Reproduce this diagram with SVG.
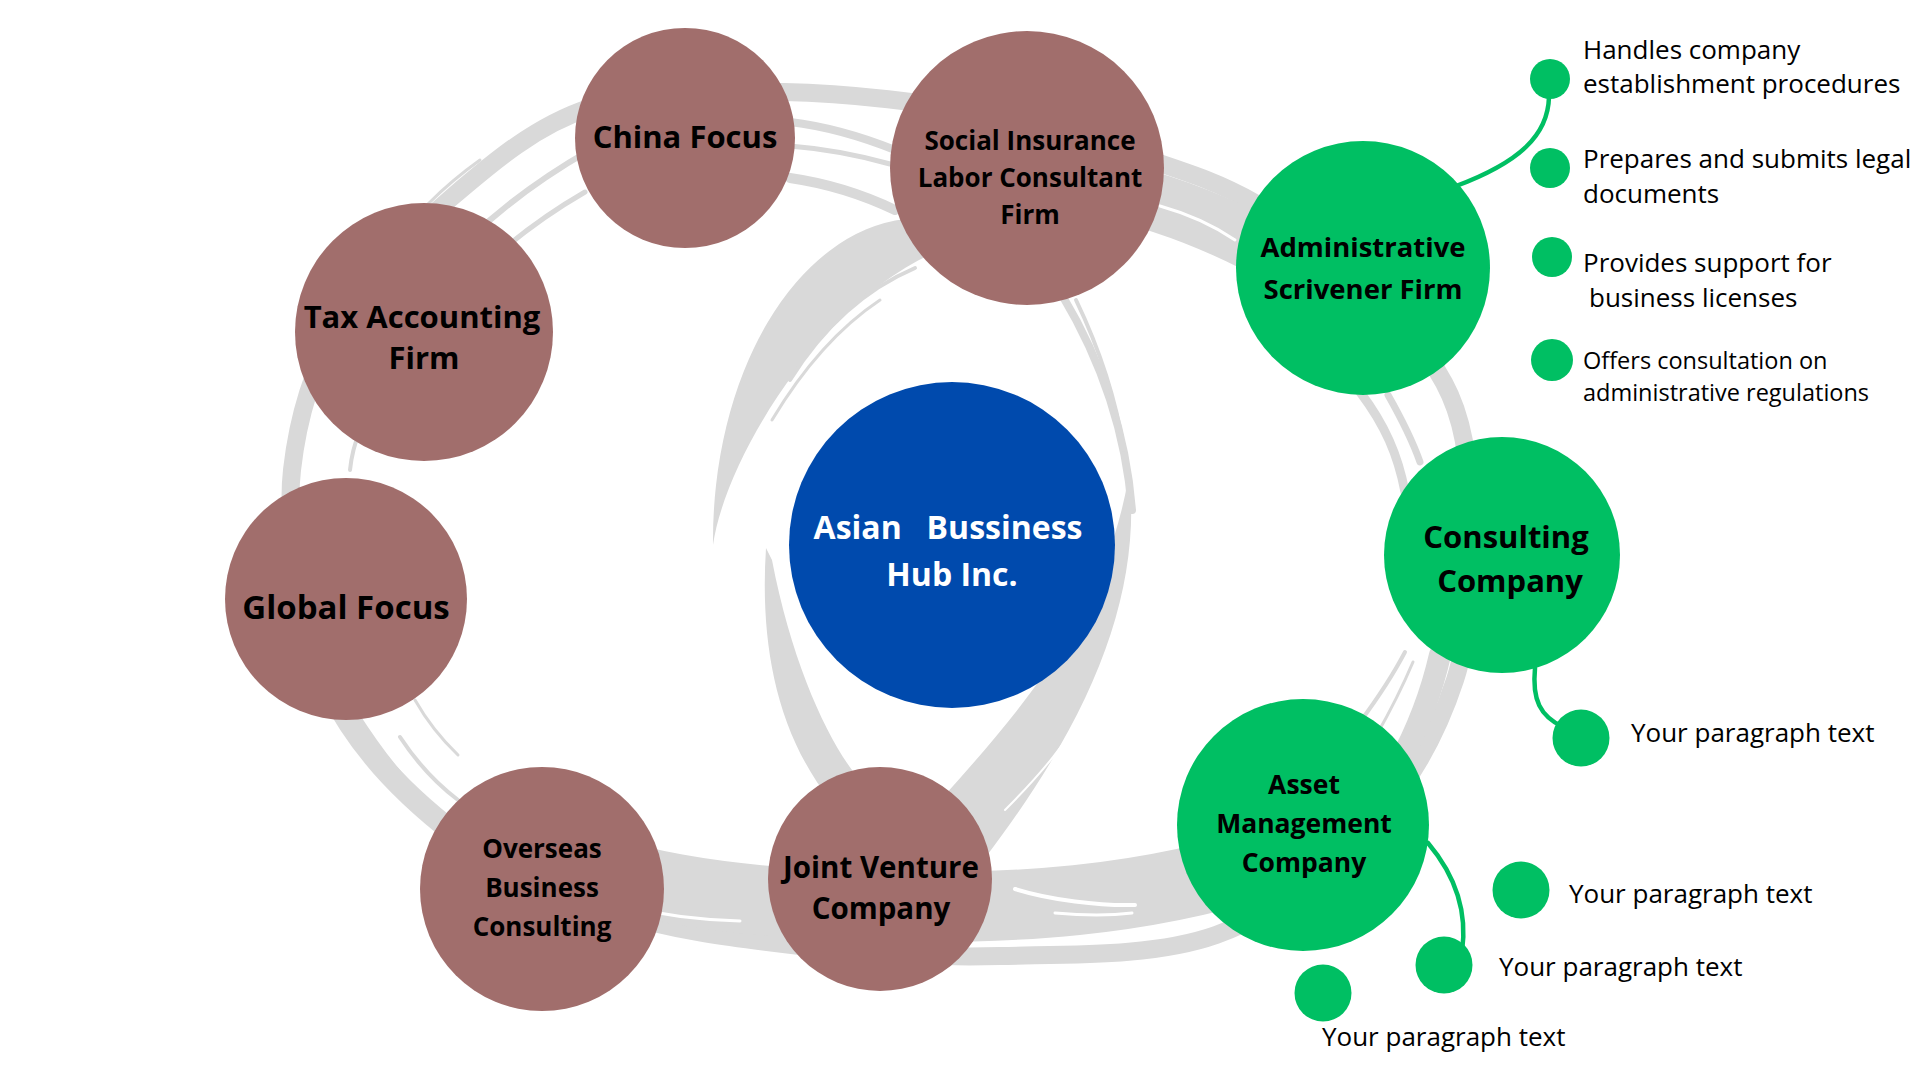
<svg xmlns="http://www.w3.org/2000/svg" width="1920" height="1080" viewBox="0 0 1920 1080">
  <style>
    .ring { fill: none; stroke: #d9d9d9; stroke-linecap: round; }
    .ringfill { fill: #d9d9d9; }
    .streak { fill: none; stroke: #ffffff; stroke-linecap: round; }
    .brown { fill: #a16e6c; }
    .green { fill: #00bf63; }
    .hub { fill: #004aad; }
    .title { font-family: "Open Sans", "Liberation Sans", sans-serif; font-weight: 700; fill: #000000; text-anchor: middle; }
    .hubtxt { font-family: "Open Sans", "Liberation Sans", sans-serif; font-weight: 700; fill: #ffffff; text-anchor: middle; font-size: 32px; }
    .note { font-family: "Open Sans", "Liberation Sans", sans-serif; font-weight: 400; fill: #000000; font-size: 26px; }
    .note.small { font-size: 23.5px; }
    .link { fill: none; stroke: #00bf63; stroke-width: 4.5; stroke-linecap: round; }
  </style>

  <rect width="1920" height="1080" fill="#ffffff"/>

  <!-- Brush-stroke rings behind the nodes -->
  <g id="ring-strokes">
    <!-- outer loop -->
    <path class="ring" stroke-width="18" d="M292,470 C286.7,517.2 296.3,567 306,608 C315.7,649 326.7,679.7 350,716 C373.3,752.3 402.3,793.5 446,826 C489.7,858.5 553,891 612,911 C671,931 735.3,938.5 800,946 C864.7,953.5 930.7,957.8 1000,956 C1069.3,954.2 1154,957 1216,935 C1278,913 1332.2,866.5 1372,824 C1411.8,781.5 1438.7,729.8 1455,680 C1471.3,630.2 1470.8,572.5 1470,525 C1469.2,477.5 1468,435.7 1450,395 C1432,354.3 1394.5,313 1362,281 C1329.5,249 1290.8,223.3 1255,203 C1219.2,182.7 1191.5,173.8 1147,159 C1102.5,144.2 1048.5,125.2 988,114 C927.5,102.8 850,93.2 784,92 C718,90.8 647.5,89.3 592,107 C536.5,124.7 493.3,161.7 451,198 C408.7,234.3 364.5,279.7 338,325 C311.5,370.3 297.3,422.8 292,470 Z"/>
    <!-- heavy lower sweep -->
    <path class="ring" stroke-width="70" d="M530,845 C620,885 720,902 860,906 C1000,910 1150,905 1300,850"/>
    <!-- lower-left thickening -->
    <path class="ring" stroke-width="22" d="M330,690 C355,740 395,790 470,845"/>
    <!-- heavy upper-right sweep -->
    <path class="ring" stroke-width="58" d="M1100,188 C1160,200 1220,222 1290,262"/>
    <!-- right side thickening -->
    <path class="ring" stroke-width="22" d="M1398,765 C1420,725 1432,690 1440,655"/>
    <path class="ring" stroke-width="9" d="M1360,392 C1385,425 1398,455 1405,492"/>
    <path class="ring" stroke-width="7" d="M1388,395 C1405,425 1414,445 1420,462"/>
    <path class="ring" stroke-width="4" d="M1360,722 C1380,695 1393,675 1405,652"/>
    <path class="ring" stroke-width="3" d="M1376,736 C1392,708 1402,688 1413,662"/>
    <!-- top strands -->
    <path class="ring" stroke-width="8" d="M790,122 Q840,128 895,150"/>
    <path class="ring" stroke-width="5" d="M790,146 Q840,150 890,164"/>
    <path class="ring" stroke-width="10" d="M790,178 Q845,186 895,210"/>
    <path class="ring" stroke-width="6" d="M468,240 Q520,190 590,150"/>
    <path class="ring" stroke-width="5" d="M500,252 Q540,218 585,192"/>
    <path class="ring" stroke-width="3" d="M428,204 Q452,180 480,160"/>
    <!-- left strands -->
    <path class="ring" stroke-width="4" d="M350,470 Q352,450 360,430"/>
    <path class="ring" stroke-width="3" d="M415,700 Q432,730 458,755"/>
    <path class="ring" stroke-width="4" d="M400,737 Q425,775 458,800"/>

    <!-- inner swirl: upper-left tapered arc -->
    <path class="ringfill" d="M905,219 A208,322 0 0 0 713,545 C725,460 820,300 940,250 Z"/>
    <path class="ring" stroke-width="4" d="M915,268 Q840,300 790,380"/>
    <path class="ring" stroke-width="3" d="M880,300 Q820,340 772,420"/>
    <!-- inner swirl: lower-left stroke into the joint venture node -->
    <path class="ringfill" d="M766,548 C760,640 775,730 830,800 L870,790 C840,765 795,680 772,560 Z"/>
    <!-- inner swirl: right side -->
    <path class="ring" stroke-width="8" d="M1062,295 C1095,350 1125,420 1132,510"/>
    <path class="ring" stroke-width="4" d="M1076,300 C1100,350 1116,400 1124,450"/>
    <path class="ringfill" d="M1130,480 C1140,600 1090,720 985,858 L945,795 C1030,700 1105,610 1128,480 Z"/>

    <!-- dry-brush gaps -->
    <path class="streak" stroke-width="4" d="M1015,889 C1050,900 1100,906 1135,905"/>
    <path class="streak" stroke-width="3" d="M1055,913 C1090,916 1115,915 1132,913"/>
    <path class="streak" stroke-width="3" d="M620,905 C660,915 700,920 740,921"/>
    <path class="streak" stroke-width="3" d="M1160,206 C1185,213 1210,223 1235,240"/>
    <path class="streak" stroke-width="2" d="M1150,236 C1180,245 1205,253 1232,268"/>
    <path class="streak" stroke-width="2" d="M1090,700 C1070,740 1040,775 1005,810"/>
  </g>

  <!-- Connectors from the green nodes to their bullet dots -->
  <g id="connectors">
    <path class="link" d="M1549,97 C1548,135 1520,162 1456,186"/>
    <path class="link" d="M1535,668 C1532,700 1540,716 1563,727"/>
    <path class="link" d="M1428,843 C1455,875 1468,910 1462,952"/>
  </g>

  <!-- Brown service nodes -->
  <g id="node-china-focus">
    <circle class="brown" cx="685" cy="138" r="110"/>
    <text class="title" x="685" y="148" font-size="31">China Focus</text>
  </g>
  <g id="node-social-insurance">
    <circle class="brown" cx="1027" cy="168" r="137"/>
    <text class="title" x="1030" y="150" font-size="26">Social Insurance</text>
    <text class="title" x="1030" y="187" font-size="26">Labor Consultant</text>
    <text class="title" x="1030" y="224" font-size="26">Firm</text>
  </g>
  <g id="node-tax-accounting">
    <circle class="brown" cx="424" cy="332" r="129"/>
    <text class="title" x="422" y="328" font-size="31">Tax Accounting</text>
    <text class="title" x="424" y="369" font-size="31">Firm</text>
  </g>
  <g id="node-global-focus">
    <circle class="brown" cx="346" cy="599" r="121"/>
    <text class="title" x="346" y="619" font-size="33">Global Focus</text>
  </g>
  <g id="node-overseas">
    <circle class="brown" cx="542" cy="889" r="122"/>
    <text class="title" x="542" y="858" font-size="26">Overseas</text>
    <text class="title" x="542" y="897" font-size="26">Business</text>
    <text class="title" x="542" y="936" font-size="26">Consulting</text>
  </g>
  <g id="node-joint-venture">
    <circle class="brown" cx="880" cy="879" r="112"/>
    <text class="title" x="881" y="878" font-size="29.5">Joint Venture</text>
    <text class="title" x="881" y="919" font-size="29.5">Company</text>
  </g>

  <!-- Central hub -->
  <g id="node-hub">
    <circle class="hub" cx="952" cy="545" r="163"/>
    <text class="hubtxt" x="948" y="539" xml:space="preserve">Asian   Bussiness</text>
    <text class="hubtxt" x="952" y="586">Hub Inc.</text>
  </g>

  <!-- Green service nodes -->
  <g id="node-administrative-scrivener">
    <circle class="green" cx="1363" cy="268" r="127"/>
    <text class="title" x="1363" y="257" font-size="27.5">Administrative</text>
    <text class="title" x="1363" y="299" font-size="27.5">Scrivener Firm</text>
  </g>
  <g id="node-consulting">
    <circle class="green" cx="1502" cy="555" r="118"/>
    <text class="title" x="1506" y="548" font-size="31">Consulting</text>
    <text class="title" x="1510" y="592" font-size="31">Company</text>
  </g>
  <g id="node-asset-management">
    <circle class="green" cx="1303" cy="825" r="126"/>
    <text class="title" x="1304" y="794" font-size="26.5">Asset</text>
    <text class="title" x="1304" y="833" font-size="26.5">Management</text>
    <text class="title" x="1304" y="872" font-size="26.5">Company</text>
  </g>

  <!-- Bullet list for the administrative scrivener firm -->
  <g id="scrivener-points">
    <circle class="green" cx="1550" cy="79" r="20"/>
    <text class="note" x="1583" y="59">Handles company</text>
    <text class="note" x="1583" y="93">establishment procedures</text>
    <circle class="green" cx="1550" cy="168" r="20"/>
    <text class="note" x="1583" y="168">Prepares and submits legal</text>
    <text class="note" x="1583" y="203">documents</text>
    <circle class="green" cx="1552" cy="257" r="20"/>
    <text class="note" x="1583" y="272">Provides support for</text>
    <text class="note" x="1589" y="307">business licenses</text>
    <circle class="green" cx="1552" cy="360" r="21"/>
    <text class="note small" x="1583" y="369">Offers consultation on</text>
    <text class="note small" x="1583" y="401">administrative regulations</text>
  </g>

  <!-- Bullet for the consulting company -->
  <g id="consulting-points">
    <circle class="green" cx="1581" cy="738" r="28.5"/>
    <text class="note" x="1631" y="742">Your paragraph text</text>
  </g>

  <!-- Bullets for the asset management company -->
  <g id="asset-points">
    <circle class="green" cx="1521" cy="890" r="28.5"/>
    <text class="note" x="1569" y="903">Your paragraph text</text>
    <circle class="green" cx="1444" cy="965" r="28.5"/>
    <text class="note" x="1499" y="976">Your paragraph text</text>
    <circle class="green" cx="1323" cy="993" r="28.5"/>
    <text class="note" x="1322" y="1046">Your paragraph text</text>
  </g>
</svg>
